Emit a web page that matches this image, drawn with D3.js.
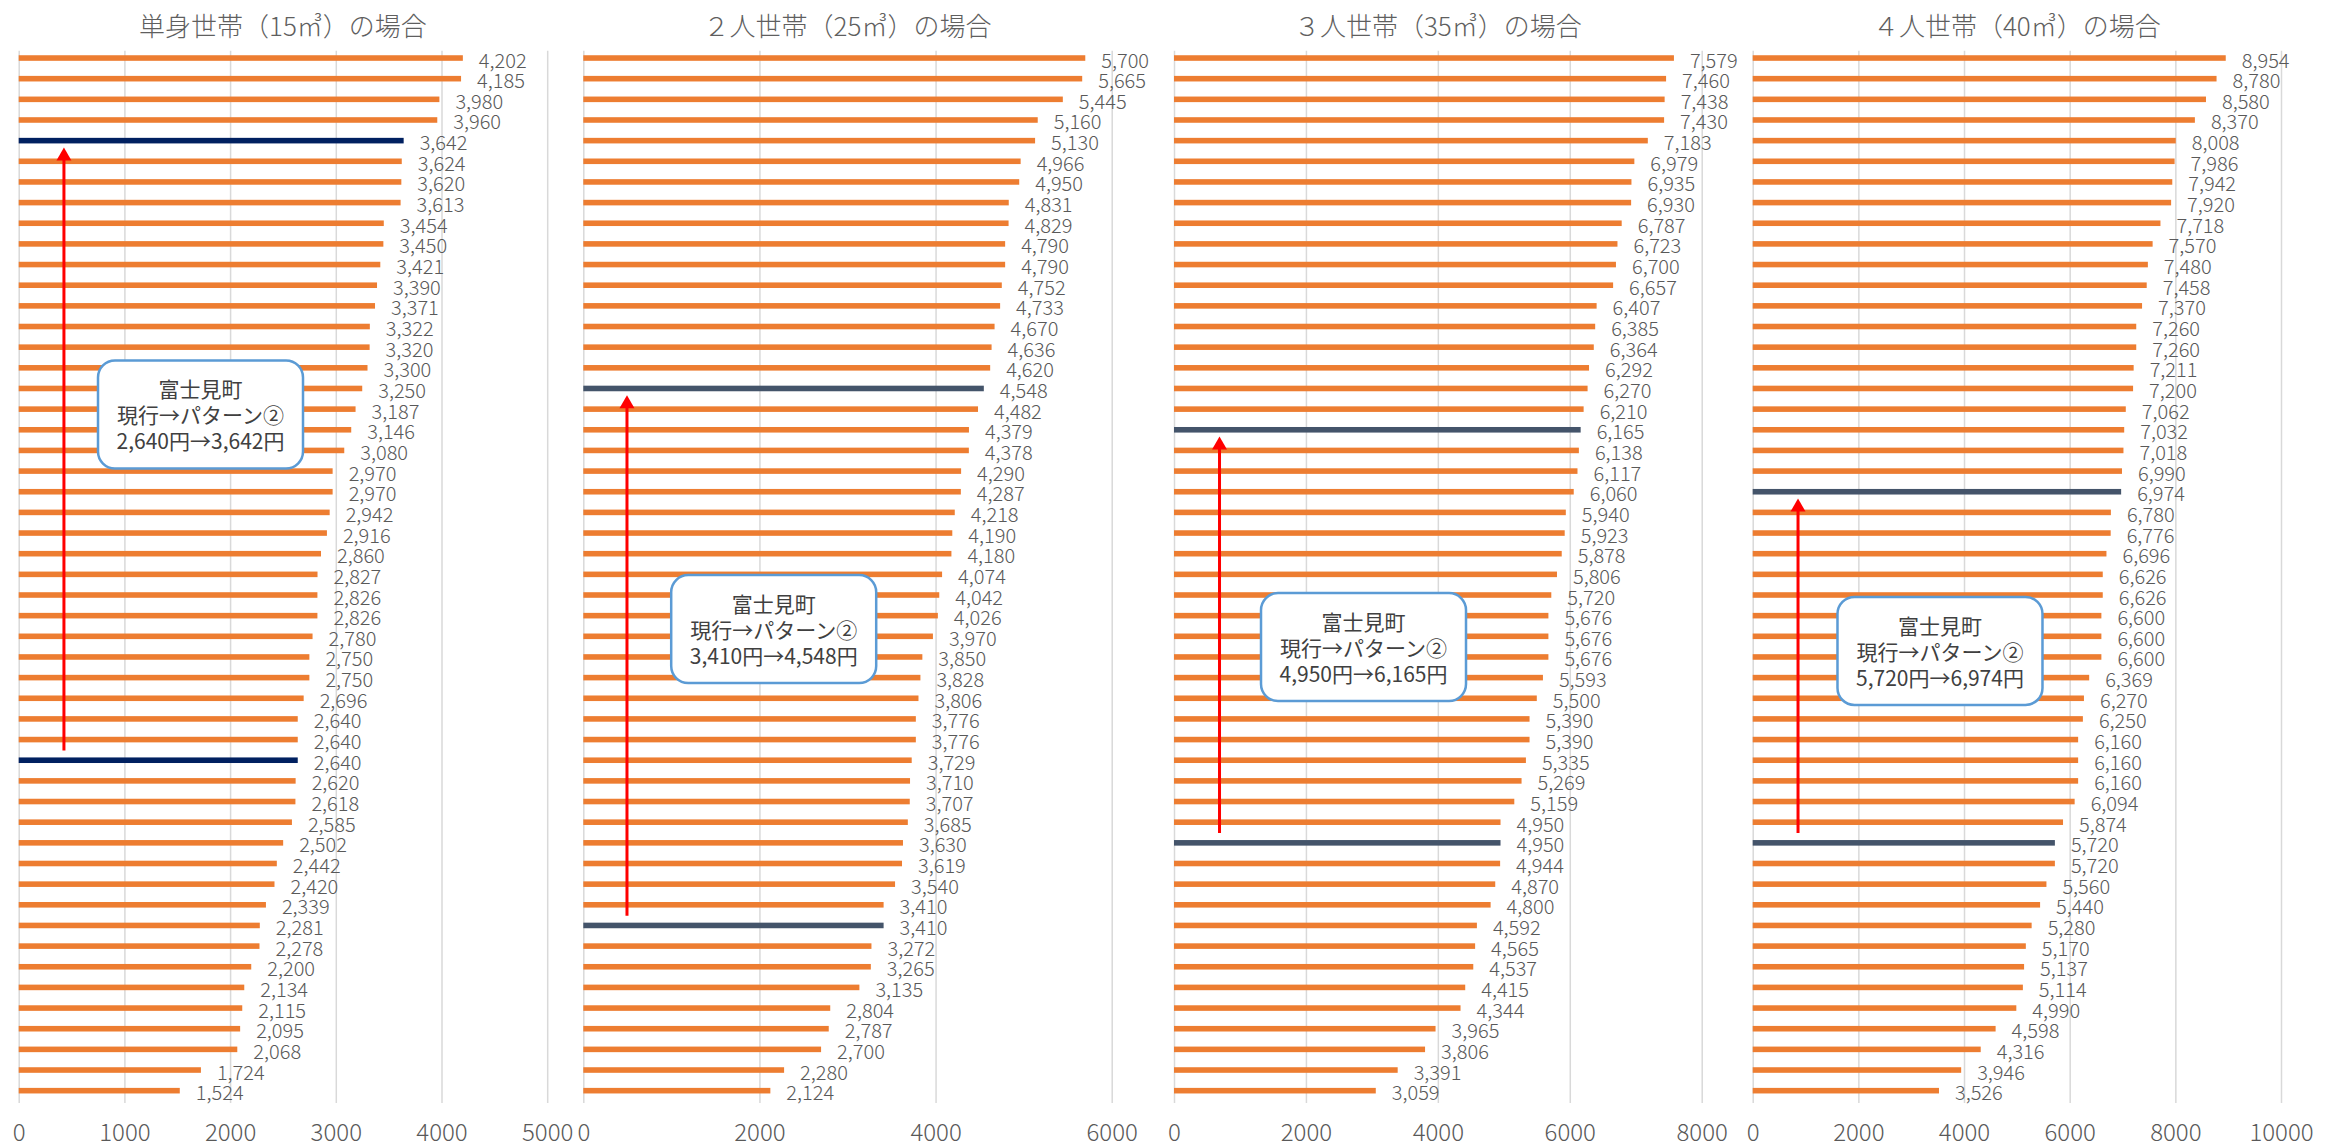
<!DOCTYPE html>
<html><head><meta charset="utf-8">
<script src="https://cdn.jsdelivr.net/npm/d3@7"></script>
<style>body{margin:0;background:#fff}svg{display:block}</style>
</head><body>
<svg id="c" width="2346" height="1148"></svg>
<script>
// ---------- data ----------
const titles = ["単身世帯（15㎥）の場合", "２人世帯（25㎥）の場合", "３人世帯（35㎥）の場合", "４人世帯（40㎥）の場合"];

const values1 = [4202,4185,3980,3960,3642,3624,3620,3613,3454,3450,3421,3390,3371,3322,3320,3300,3250,3187,3146,3080,2970,2970,2942,2916,2860,2827,2826,2826,2780,2750,2750,2696,2640,2640,2640,2620,2618,2585,2502,2442,2420,2339,2281,2278,2200,2134,2115,2095,2068,1724,1524];
const values2 = [5700,5665,5445,5160,5130,4966,4950,4831,4829,4790,4790,4752,4733,4670,4636,4620,4548,4482,4379,4378,4290,4287,4218,4190,4180,4074,4042,4026,3970,3850,3828,3806,3776,3776,3729,3710,3707,3685,3630,3619,3540,3410,3410,3272,3265,3135,2804,2787,2700,2280,2124];
const values3 = [7579,7460,7438,7430,7183,6979,6935,6930,6787,6723,6700,6657,6407,6385,6364,6292,6270,6210,6165,6138,6117,6060,5940,5923,5878,5806,5720,5676,5676,5676,5593,5500,5390,5390,5335,5269,5159,4950,4950,4944,4870,4800,4592,4565,4537,4415,4344,3965,3806,3391,3059];
const values4 = [8954,8780,8580,8370,8008,7986,7942,7920,7718,7570,7480,7458,7370,7260,7260,7211,7200,7062,7032,7018,6990,6974,6780,6776,6696,6626,6626,6600,6600,6600,6369,6270,6250,6160,6160,6160,6094,5874,5720,5720,5560,5440,5280,5170,5137,5114,4990,4598,4316,3946,3526];

// highlighted rows (富士見町): [pattern② row, current row]
const highlight1 = [4, 34];
const highlight2 = [16, 42];
const highlight3 = [18, 38];
const highlight4 = [21, 38];

const ticks1 = [0,1000,2000,3000,4000,5000];
const ticks2 = [0,2000,4000,6000];
const ticks3 = [0,2000,4000,6000,8000];
const ticks4 = [0,2000,4000,6000,8000,10000];

const calloutTitle = "富士見町";
const calloutSub = "現行→パターン②";
const calloutLines = ["2,640円→3,642円", "3,410円→4,548円", "4,950円→6,165円", "5,720円→6,974円"];

// ---------- layout ----------
const W = 2346, H = 1148;
const gridTop = 50.7, gridBottom = 1103;
const rowTop = 47.7, rowBottom = 1101;
const panelsX = [[18.7, 547.2], [583.3, 1111.7], [1174, 1701.7], [1752.7, 2281]];
const hlColors = ["#002060", "#44546A", "#44546A", "#44546A"];
const orange = "#ED7D31";
const textGray = "#595959";
// annotation anchors (in value units / row units)
const arrowX = [428, 496, 690, 858];
const calloutAnchor = [[1720, 17.26], [2162, 27.65], [2873, 28.52], [3545, 28.71]];
const boxW = 205, boxH = 108;

const panels = [
  {values: values1, hl: highlight1, ticks: ticks1},
  {values: values2, hl: highlight2, ticks: ticks2},
  {values: values3, hl: highlight3, ticks: ticks3},
  {values: values4, hl: highlight4, ticks: ticks4},
];

const svg = d3.select("#c");
const FONT = "'Noto Sans CJK JP','Noto Sans',sans-serif";
const fmt = d3.format(",");

panels.forEach((p, k) => {
  const g = svg.append("g");
  const x = d3.scaleLinear()
    .domain([0, d3.max(p.ticks)])
    .range(panelsX[k]);
  const y = d3.scaleBand()
    .domain(d3.range(p.values.length))
    .range([rowTop, rowBottom])
    .paddingInner(0.73).paddingOuter(0.365);
  const bw = y.bandwidth();

  // title
  g.append("text")
    .attr("x", (panelsX[k][0] + panelsX[k][1]) / 2)
    .attr("y", 24)
    .attr("text-anchor", "middle")
    .attr("dominant-baseline", "central")
    .attr("font-family", FONT)
    .attr("font-size", 26)
    .attr("font-weight", 300)
    .attr("fill", "#5f5f5f")
    .text(titles[k]);

  // grid + ticks
  const axis = d3.axisBottom(x)
    .tickValues(p.ticks)
    .tickFormat(d3.format("d"))
    .tickSize(-(gridBottom - gridTop))
    .tickPadding(21);
  const ag = g.append("g")
    .attr("transform", `translate(0,${gridBottom})`)
    .call(axis);
  ag.select(".domain").remove();
  ag.selectAll(".tick line").attr("stroke", "#d9d9d9").attr("stroke-width", 1.5);
  ag.selectAll(".tick text")
    .attr("font-family", FONT)
    .attr("font-size", 24)
    .attr("font-weight", 300)
    .attr("fill", textGray);

  // bars
  g.selectAll("rect.bar")
    .data(p.values)
    .join("rect")
    .attr("class", "bar")
    .attr("x", x(0))
    .attr("y", (d, i) => y(i))
    .attr("width", d => x(d) - x(0))
    .attr("height", bw)
    .attr("fill", (d, i) => p.hl.includes(i) ? hlColors[k] : orange);

  // labels
  g.selectAll("text.lbl")
    .data(p.values)
    .join("text")
    .attr("class", "lbl")
    .attr("x", d => x(d) + 16)
    .attr("y", (d, i) => y(i) + bw / 2 + 1)
    .attr("dominant-baseline", "central")
    .attr("font-family", FONT)
    .attr("font-size", 20)
    .attr("font-weight", 300)
    .attr("fill", textGray)
    .text(d => fmt(d));

  // arrow (from current row up to pattern② row)
  const ax = x(arrowX[k]);
  const yTip = y(p.hl[0]) + bw + 4;
  const yBase = y(p.hl[1]) - 7;
  const headH = 13, headW = 15;
  g.append("line")
    .attr("x1", ax).attr("x2", ax)
    .attr("y1", yBase).attr("y2", yTip + headH - 1)
    .attr("stroke", "#FF0000").attr("stroke-width", 3);
  g.append("path")
    .attr("d", `M${ax},${yTip} L${ax - headW/2},${yTip + headH} L${ax + headW/2},${yTip + headH} Z`)
    .attr("fill", "#FF0000");

  // callout
  const cx = x(calloutAnchor[k][0]);
  const cy = y(0) + bw / 2 + calloutAnchor[k][1] * y.step();
  g.append("rect")
    .attr("x", cx - boxW / 2).attr("y", cy - boxH / 2)
    .attr("width", boxW).attr("height", boxH)
    .attr("rx", 17).attr("ry", 17)
    .attr("fill", "#fff")
    .attr("stroke", "#5B9BD5").attr("stroke-width", 2.5);
  const lines = [calloutTitle, calloutSub, calloutLines[k]];
  lines.forEach((t, j) => {
    g.append("text")
      .attr("x", cx)
      .attr("y", cy + (j - 1) * 26)
      .attr("text-anchor", "middle")
      .attr("dominant-baseline", "central")
      .attr("font-family", FONT)
      .attr("font-size", 21)
      .attr("fill", "#404040")
      .text(t);
  });
});
</script>
</body></html>
